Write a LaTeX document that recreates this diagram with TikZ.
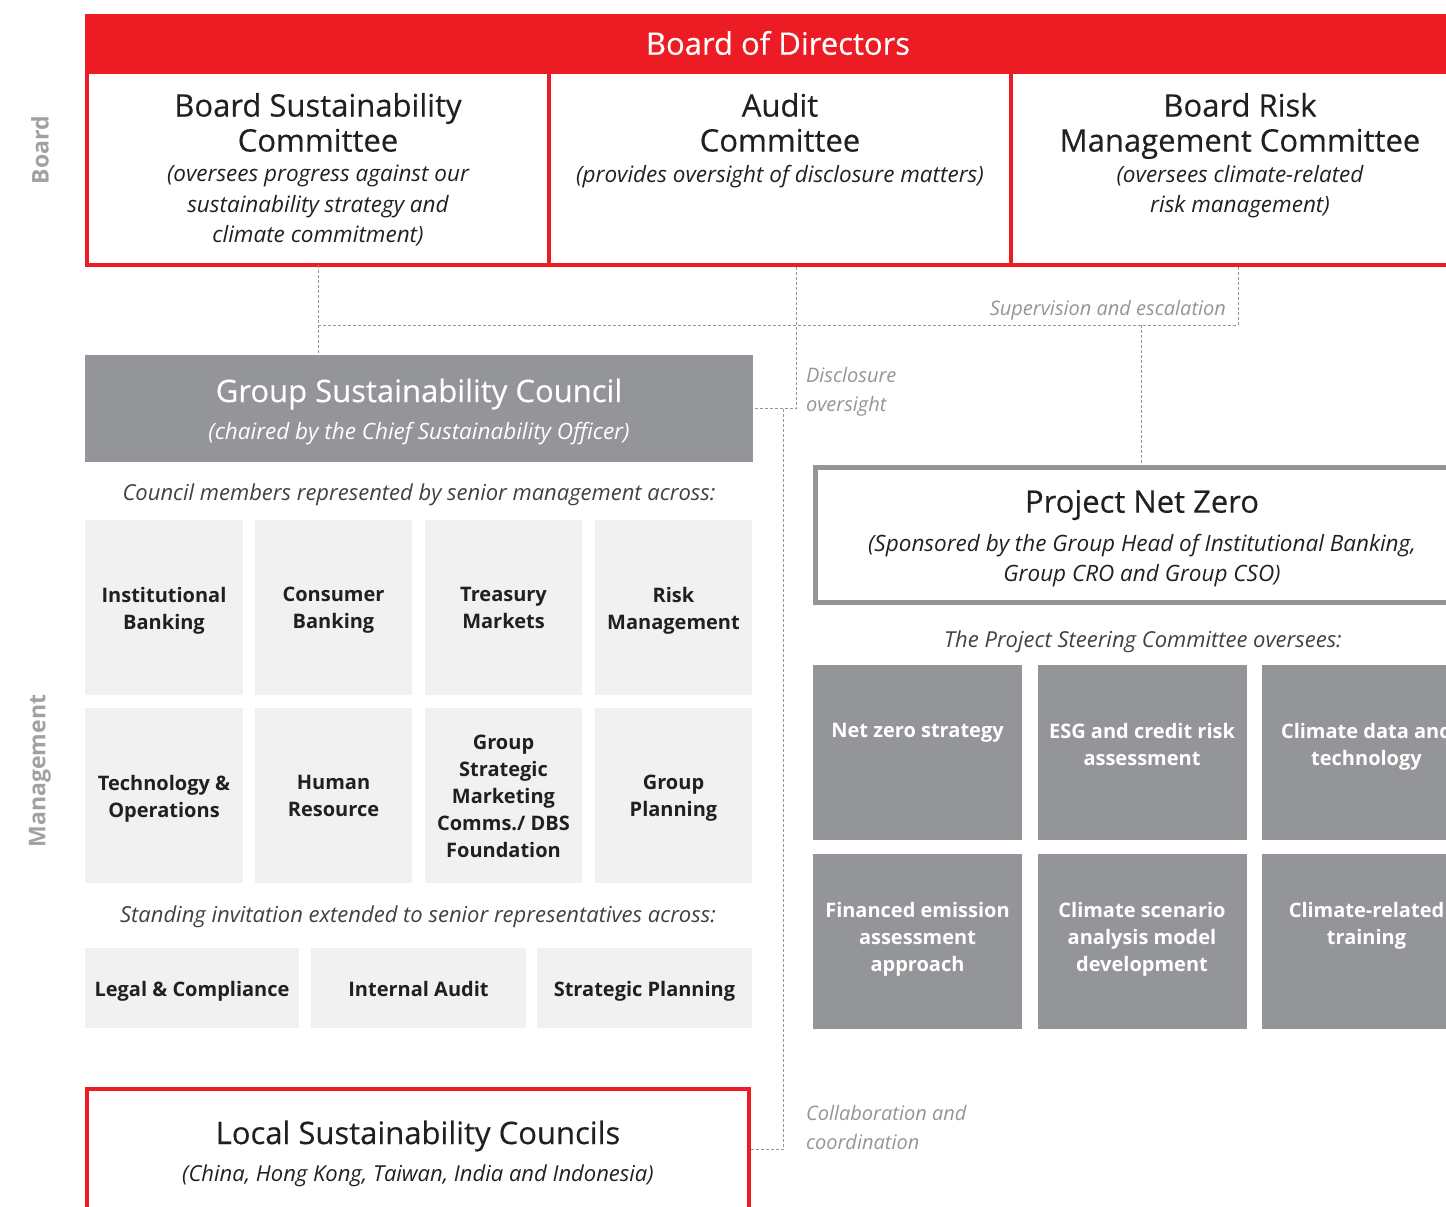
\documentclass[tikz,border=0pt]{standalone}
\usepackage{fontspec}
\setmainfont{Open Sans}
\newfontfamily\sbfont{Open Sans}[FakeBold=0.35]
\definecolor{dbsred}{HTML}{ED1C24}
\definecolor{midgray}{HTML}{939598}
\definecolor{lightg}{HTML}{F1F1F2}
\definecolor{inkdark}{HTML}{231F20}
\definecolor{inkmid}{HTML}{414042}
\definecolor{sidegray}{HTML}{A0A1A4}
\newcommand{\fs}[2]{\fontsize{#1pt}{#2pt}\selectfont}
\newcommand{\dsc}{\vphantom{gp}}
\tikzset{
  every node/.style={inner sep=0pt, outer sep=0pt},
  conn/.style={draw=midgray, line width=1pt, dash pattern=on 3pt off 2pt},
  redbox/.style={draw=dbsred, line width=4pt},
  graybox/.style={draw=midgray, line width=5pt},
  lcell/.style={fill=lightg, minimum height=175pt},
  bcell/.style={fill=lightg, minimum height=80pt},
  ctext/.style={align=center, text=inkdark, font=\bfseries\fs{20}{27}, yshift=-3pt},
  pcell/.style={fill=midgray, minimum width=209pt, minimum height=175pt},
  ptext/.style={align=center, text=white, font=\bfseries\fs{20}{27}, anchor=north},
  ttl/.style={align=center, text=inkdark, font=\sbfont\fs{31}{35}, anchor=north},
  sub/.style={align=center, text=inkdark, font=\itshape\fs{22.5}{30.5}, anchor=north},
  captxt/.style={align=center, text=inkmid, font=\itshape\fs{22}{28}},
  lbl/.style={align=left, text=midgray, font=\itshape\fs{20}{29}, anchor=north west},
  side/.style={text=sidegray, font=\bfseries\fs{23}{26}, rotate=90}
}
\begin{document}
\begin{tikzpicture}[x=1pt,y=-1pt]
\useasboundingbox (0,0) rectangle (1446,1207);
\clip (0,0) rectangle (1446,1207);

% side labels
\node[side] (lboard) at (40,150) {Board};
\node[side] (lmgmt) at (40,771) {Management};

% Board of directors
\node[fill=dbsred, minimum width=1400pt, minimum height=58pt, anchor=north west] (bod) at (85,14) {};
\node[text=white, font=\sbfont\fs{31}{34}] (bodt) at (778,43) {Board of Directors};

% committees
\node[redbox, minimum width=462pt, minimum height=193pt, anchor=north west] (bsc) at (87,72) {};
\node[redbox, minimum width=462pt, minimum height=193pt, anchor=north west] (aud) at (549,72) {};
\node[redbox, minimum width=470pt, minimum height=193pt, anchor=north west] (brmc) at (1011,72) {};

\node[ttl] (bsct) at (318,93) {Board Sustainability\\Committee};
\node[sub] (bscs) at (318,165) {(oversees progress against our\\sustainability strategy and\\climate commitment)};
\node[ttl] (audt) at (780,93) {Audit\\Committee};
\node[sub] (auds) at (780,165) {(provides oversight of disclosure matters)};
\node[ttl] (brmct) at (1240,93) {Board Risk\\Management Committee};
\node[sub] (brmcs) at (1240,165) {(oversees climate-related\\risk management)};

% Group Sustainability Council
\node[fill=midgray, minimum width=668pt, minimum height=107pt, anchor=north west] (gsc) at (85,355) {};
\node[text=white, font=\sbfont\fs{31}{36}] (gsct) at (419,394) {Group Sustainability Council};
\node[text=white, font=\itshape\fs{22.5}{26}] (gscs) at (419,434) {(chaired by the Chief Sustainability Officer)};

\node[captxt] (cm) at (419,495) {Council members represented by senior management across:};

\node[lcell, minimum width=158pt] (c11) at (164,607.5) {};
\node[lcell, minimum width=157pt] (c12) at (333.5,607.5) {};
\node[lcell, minimum width=157pt] (c13) at (503.5,607.5) {};
\node[lcell, minimum width=157pt] (c14) at (673.5,607.5) {};
\node[lcell, minimum width=158pt] (c21) at (164,795.5) {};
\node[lcell, minimum width=157pt] (c22) at (333.5,795.5) {};
\node[lcell, minimum width=157pt] (c23) at (503.5,795.5) {};
\node[lcell, minimum width=157pt] (c24) at (673.5,795.5) {};
\node[ctext] (c11t) at (c11) {Institutional\\Banking};
\node[ctext] (c12t) at (c12) {Consumer\\Banking};
\node[ctext] (c13t) at (c13) {Treasury\\Markets\dsc};
\node[ctext] (c14t) at (c14) {Risk\\Management};
\node[ctext] (c21t) at (c21) {Technology \&\\Operations};
\node[ctext] (c22t) at (c22) {Human\\Resource\dsc};
\node[ctext] (c23t) at (c23) {Group\\Strategic\\Marketing\\Comms./ DBS\\Foundation\dsc};
\node[ctext] (c24t) at (c24) {Group\\Planning};

\node[captxt] (si) at (418,917) {Standing invitation extended to senior representatives across:};

\node[bcell, minimum width=214pt] (b1) at (192,988) {};
\node[bcell, minimum width=215pt] (b2) at (418.5,988) {};
\node[bcell, minimum width=215pt] (b3) at (644.5,988) {};
\node[ctext] (b1t) at (b1) {Legal \& Compliance};
\node[ctext] (b2t) at (b2) {Internal Audit\dsc};
\node[ctext] (b3t) at (b3) {Strategic Planning};

% Local sustainability councils
\node[redbox, minimum width=662pt, minimum height=121pt, anchor=north west] (lsc) at (87,1089) {};
\node[text=inkdark, font=\sbfont\fs{31}{36}] (lsct) at (418,1136) {Local Sustainability Councils};
\node[text=inkdark, font=\itshape\fs{22}{26}] (lscs) at (418,1176) {(China, Hong Kong, Taiwan, India and Indonesia)};

% Project Net Zero
\node[graybox, minimum width=660pt, minimum height=135pt, anchor=north west] (pnz) at (815.5,467.5) {};
\node[text=inkdark, font=\sbfont\fs{31}{35}] (pnzt) at (1142,505) {Project Net Zero};
\node[text=inkdark, font=\itshape\fs{22.5}{30}, align=center] (pnzs) at (1142,561) {(Sponsored by the Group Head of Institutional Banking,\\Group CRO and Group CSO)};

\node[captxt] (psc) at (1143,642) {The Project Steering Committee oversees:};

\node[pcell] (p11) at (917.5,752.5) {};
\node[pcell] (p12) at (1142,752.5) {};
\node[pcell] (p13) at (1366.5,752.5) {};
\node[pcell] (p21) at (917.5,941.5) {};
\node[pcell] (p22) at (1142,941.5) {};
\node[pcell] (p23) at (1366.5,941.5) {};
\node[ptext] (p11t) at (917.5,723) {Net zero strategy};
\node[ptext] (p12t) at (1142,723) {ESG and credit risk\\assessment};
\node[ptext] (p13t) at (1366.5,723) {Climate data and\\technology};
\node[ptext] (p21t) at (917.5,902) {Financed emission\\assessment\\approach};
\node[ptext] (p22t) at (1142,902) {Climate scenario\\analysis model\\development};
\node[ptext] (p23t) at (1366.5,902) {Climate-related\\training};

% connectors
\coordinate (hL) at (bsc.south |- 0,325);
\coordinate (hR) at (1238,325);
\coordinate (audfoot) at (796,267);
\coordinate (dj) at (783,408.5);
\coordinate (pj) at (1141,325);
\draw[conn] (bsc.south) -- (bsc.south |- gsc.north);
\draw[conn] (hL) -- (hR);
\draw[conn] (hR) -- (hR |- brmc.south);
\draw[conn] (audfoot) |- (gsc.east);
\draw[conn] (dj) |- (lsc.east);
\draw[conn] (pj) -- (pj |- pnz.north);

\node[lbl, anchor=north east] (sup) at (1226,300) {Supervision and escalation};
\node[lbl] (disc) at (806,367) {Disclosure\\oversight};
\node[lbl] (coll) at (806,1105) {Collaboration and\\coordination};
\end{tikzpicture}
\end{document}
